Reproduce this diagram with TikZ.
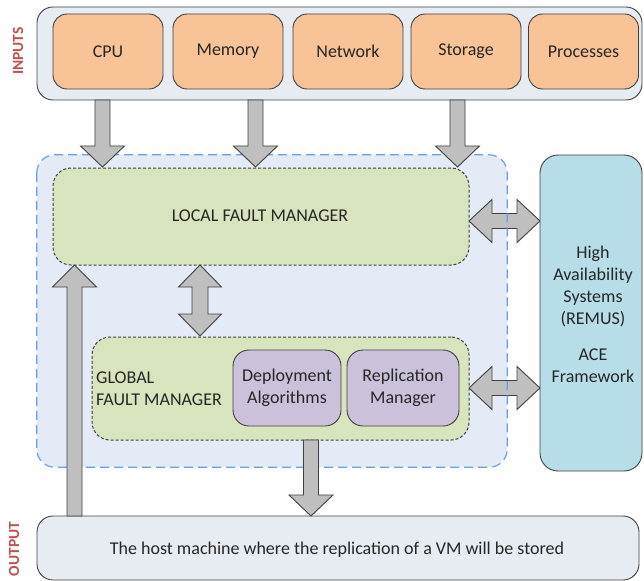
\documentclass[tikz,border=0pt]{standalone}
\usepackage{fontspec}
\setmainfont{Carlito}
\definecolor{edge}{HTML}{404040}
\definecolor{txt}{HTML}{262626}
\definecolor{inbg}{HTML}{E7ECF3}
\definecolor{orng}{HTML}{F8C396}
\definecolor{grn}{HTML}{D7E4BD}
\definecolor{prp}{HTML}{CCC1DA}
\definecolor{cyn}{HTML}{B7DEE8}
\definecolor{dbg}{HTML}{E4EBF6}
\definecolor{dblue}{HTML}{6C9FE2}
\definecolor{arrg}{HTML}{BFBFBF}
\definecolor{lbl}{HTML}{C0504D}
\newcommand\arrdown[3]{\draw[barrow] (#1-7.5,#2) -- (#1+7.5,#2) -- (#1+7.5,#3-21) -- (#1+22,#3-21) -- (#1,#3) -- (#1-22,#3-21) -- (#1-7.5,#3-21) -- cycle;}
\newcommand\arrup[3]{\draw[barrow] (#1-7.5,#2) -- (#1+7.5,#2) -- (#1+7.5,#3+22) -- (#1+22,#3+22) -- (#1,#3) -- (#1-22,#3+22) -- (#1-7.5,#3+22) -- cycle;}
\newcommand\arrvdouble[3]{\draw[barrow] (#1,#2) -- (#1+21.5,#2+22) -- (#1+8,#2+22) -- (#1+8,#3-22) -- (#1+21.5,#3-22) -- (#1,#3) -- (#1-21.5,#3-22) -- (#1-8,#3-22) -- (#1-8,#2+22) -- (#1-21.5,#2+22) -- cycle;}
\newcommand\arrhdouble[3]{\draw[barrow] (#2,#1) -- (#2+23,#1-21.5) -- (#2+23,#1-7.5) -- (#3-23,#1-7.5) -- (#3-23,#1-21.5) -- (#3,#1) -- (#3-23,#1+21.5) -- (#3-23,#1+7.5) -- (#2+23,#1+7.5) -- (#2+23,#1+21.5) -- cycle;}
\begin{document}
\begin{tikzpicture}[x=1pt,y=-1pt,
  every node/.style={font=\fontsize{18}{22}\selectfont, text=txt, inner sep=0pt},
  outerbox/.style={draw=edge, fill=inbg, rounded corners=16pt, line width=0.9pt},
  inbox/.style={draw=edge, fill=orng, rounded corners=14pt, minimum width=110pt, minimum height=75pt, line width=0.9pt},
  grnbox/.style={draw=edge, fill=grn, rounded corners=18pt, dash pattern=on 3pt off 2pt, line width=1pt},
  prpbox/.style={draw=edge, fill=prp, rounded corners=16pt, minimum height=76pt, line width=0.9pt, align=center},
  barrow/.style={draw=edge, fill=arrg, line width=0.9pt, line join=miter},
  sidelbl/.style={text=lbl, rotate=90, font=\fontsize{15.5}{18}\selectfont\bfseries}
]
\useasboundingbox (0,0) rectangle (644,580);
\begin{scope}
\clip (0,0) rectangle (644,580);
% inputs
\node[outerbox, minimum width=605pt, minimum height=93pt] (inputs) at (339.5,53.5) {};
\node[inbox] (cpu) at (108,51.5) {\raisebox{-1pt}{CPU}};
\node[inbox] (mem) at (228,51.5) {\raisebox{-1pt}{Memory}};
\node[inbox] (net) at (348,51.5) {\raisebox{-1pt}{Network}};
\node[inbox] (sto) at (466,51.5) {\raisebox{-1pt}{Storage}};
\node[inbox] (proc) at (583.5,51.5) {\raisebox{-1pt}{Processes}};
\node[sidelbl] (inlbl) at (18,51) {INPUTS};
% dashed container
\node[fill=dbg, rounded corners=18pt, minimum width=470pt, minimum height=312pt] (cont) at (272,311) {};
\arrhdouble{221}{469}{540}
\arrhdouble{388}{469}{540}
\draw[dblue, line width=1.2pt, dash pattern=on 9pt off 5pt, rounded corners=18pt] (cont.north west) rectangle (cont.south east);
% down arrows from inputs
\arrdown{102.5}{100}{167}
\arrdown{255.5}{100}{167}
\arrdown{457.5}{100}{167}
% managers
\node[grnbox, minimum width=416pt, minimum height=97pt] (lfm) at (261,216.5) {};
\node (lfmt) at (260,216) {LOCAL FAULT MANAGER};
\node[grnbox, minimum width=377pt, minimum height=103pt] (gfm) at (280.5,388.5) {};
\node[anchor=west, align=left] (gfmt) at (96,389) {GLOBAL\\FAULT MANAGER};
\node[prpbox, minimum width=108pt] (dep) at (287,388) {Deployment\\Algorithms};
\node[prpbox, minimum width=112pt] (rep) at (403,388) {Replication\\Manager};
\arrvdouble{200}{265}{336}
% right box
\node[draw=edge, fill=cyn, rounded corners=18pt, minimum width=102pt, minimum height=316pt, line width=0.9pt] (ha) at (591,313) {};
\node[align=center] (hat) at (593,314) {High\\Availability\\Systems\\(REMUS)\\[14pt]ACE\\Framework};
% output
\node[outerbox, minimum width=602pt, minimum height=64pt] (out) at (338,548) {};
\node (outt) at (337,549.5) {The host machine where the replication of a VM will be stored};
\node[sidelbl] (outlbl) at (14,549) {OUTPUT};
\arrup{74.5}{516}{265}
\arrdown{311}{440}{516}
\end{scope}
\end{tikzpicture}
\end{document}
